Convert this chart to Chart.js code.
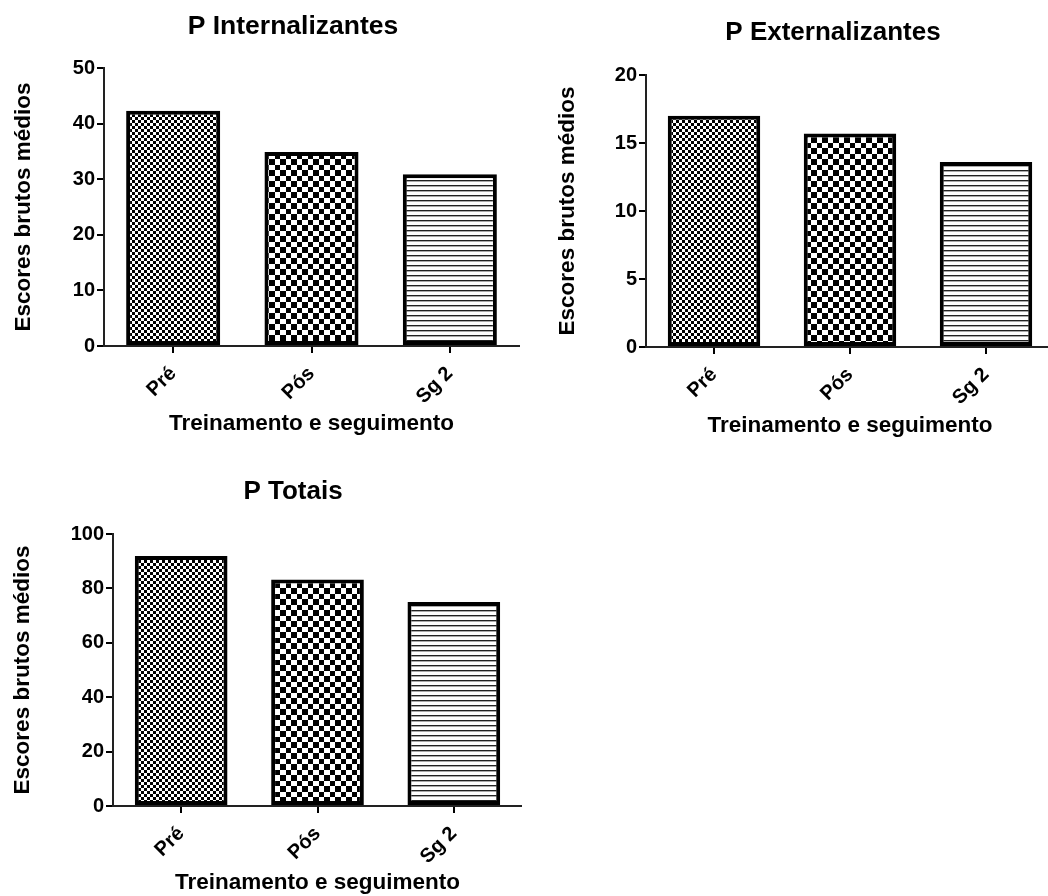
<!DOCTYPE html>
<html lang="pt">
<head>
<meta charset="utf-8">
<title>Escores brutos médios</title>
<script src="https://cdn.jsdelivr.net/npm/chart.js@4.4.1/dist/chart.umd.min.js"></script>
<style>
  html, body { margin: 0; background: #fff; overflow: hidden; width: 1048px; height: 896px; }
  canvas { position: absolute; }
</style>
</head>
<body>
<canvas id="chartIntern" width="520" height="440" style="left:0;top:0"></canvas>
<canvas id="chartExtern" width="536" height="440" style="left:520px;top:0"></canvas>
<canvas id="chartTotal" width="522" height="456" style="left:0;top:440px"></canvas>
<script>
const categories = ["Pré", "Pós", "Sg 2"];
const internValues = [42.3, 34.9, 30.9];
const externValues = [17.0, 15.7, 13.6];
const totalValues = [91.9, 83.3, 75.0];
const internTicks = [0, 10, 20, 30, 40, 50];
const externTicks = [0, 5, 10, 15, 20];
const totalTicks = [0, 20, 40, 60, 80, 100];

const FONT = "'Liberation Sans', Arial, sans-serif";

// bar fills: fine checker, coarse checker, horizontal hatching
function makePattern(ctx, w, h, paint) {
  const tile = document.createElement("canvas");
  tile.width = w;
  tile.height = h;
  const t = tile.getContext("2d");
  t.fillStyle = "#fff";
  t.fillRect(0, 0, w, h);
  paint(t);
  return ctx.createPattern(tile, "repeat");
}

function barFills(ctx) {
  const fine = makePattern(ctx, 6, 6, (t) => {
    t.fillStyle = "#000";
    t.fillRect(0, 0, 3, 3);
    t.fillRect(3, 3, 3, 3);
  });
  const coarse = makePattern(ctx, 11, 11, (t) => {
    t.fillStyle = "#000";
    t.fillRect(0, 0, 5, 5);
    t.fillRect(5, 5, 6, 6);
  });
  const lines = makePattern(ctx, 4, 5, (t) => {
    t.fillStyle = "#222";
    t.fillRect(0, 0, 4, 1);
    t.fillStyle = "#aaa";
    t.fillRect(0, 1, 4, 1);
  });
  return [fine, coarse, lines];
}

const panelTitle = {
  id: "panelTitle",
  afterDraw(chart, args, opts) {
    const { ctx } = chart;
    ctx.save();
    ctx.font = `bold ${opts.size}px ${FONT}`;
    ctx.fillStyle = "#000";
    ctx.textAlign = "center";
    ctx.textBaseline = "middle";
    ctx.fillText(opts.text, opts.x, opts.y);
    ctx.restore();
  },
};

function buildChart(id, title, values, ticks, box) {
  const canvas = document.getElementById(id);
  const ctx = canvas.getContext("2d");
  const axisBorder = { display: true, color: "#222", width: 2, dash: [3, 1] };
  const tickGrid = { drawOnChartArea: false, color: "#000", lineWidth: 2, tickLength: 7, tickWidth: 2 };

  return new Chart(canvas, {
    type: "bar",
    data: {
      labels: categories,
      datasets: [{
        data: values,
        backgroundColor: barFills(ctx),
        borderColor: "#000",
        borderWidth: 4,
        borderSkipped: false,
        categoryPercentage: 1,
        barPercentage: 0.68,
      }],
    },
    plugins: [panelTitle],
    options: {
      responsive: false,
      animation: false,
      devicePixelRatio: 1,
      layout: { padding: { top: box.top, right: box.right, left: 0, bottom: 0 } },
      plugins: {
        legend: { display: false },
        tooltip: { enabled: false },
        panelTitle: { text: title, x: box.titleX, y: box.titleY, size: box.titleSize },
      },
      scales: {
        x: {
          grid: { ...tickGrid, offset: false },
          border: axisBorder,
          ticks: {
            color: "#000",
            font: { family: FONT, weight: "bold", size: 20 },
            minRotation: 45,
            maxRotation: 45,
            padding: 9,
          },
          title: {
            display: true,
            text: "Treinamento e seguimento",
            color: "#000",
            font: { family: FONT, weight: "bold", size: 22.5 },
            padding: { top: 0, bottom: box.xTitlePad },
          },
          afterFit: (scale) => { scale.height = box.xHeight; },
        },
        y: {
          min: 0,
          max: ticks[ticks.length - 1],
          afterBuildTicks: (scale) => { scale.ticks = ticks.map((v) => ({ value: v })); },
          grid: tickGrid,
          border: axisBorder,
          ticks: {
            color: "#000",
            font: { family: FONT, weight: "bold", size: 20 },
            padding: 2,
          },
          title: {
            display: true,
            text: "Escores brutos médios",
            color: "#000",
            font: { family: FONT, weight: "bold", size: 22.5 },
            padding: { top: box.yTitlePad, bottom: 0 },
          },
          afterFit: (scale) => { scale.width = box.yWidth; },
        },
      },
    },
  });
}

buildChart("chartIntern", "P Internalizantes", internValues, internTicks, {
  top: 68, right: 1, yWidth: 104, xHeight: 94,
  xTitlePad: 3, yTitlePad: 10,
  titleX: 293, titleY: 27, titleSize: 26.5,
});

buildChart("chartExtern", "P Externalizantes", externValues, externTicks, {
  top: 75, right: 2, yWidth: 126, xHeight: 93,
  xTitlePad: 1, yTitlePad: 34,
  titleX: 833 - 520, titleY: 33, titleSize: 26,
});

buildChart("chartTotal", "P Totais", totalValues, totalTicks, {
  top: 94, right: 0, yWidth: 113, xHeight: 90,
  xTitlePad: 0, yTitlePad: 9,
  titleX: 293, titleY: 52, titleSize: 26,
});
</script>
</body>
</html>
